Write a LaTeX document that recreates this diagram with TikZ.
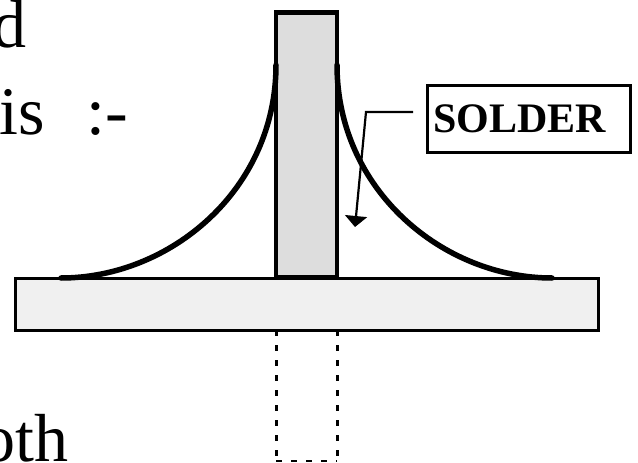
\documentclass[tikz,border=0pt]{standalone}
\usepackage{fontspec}
\setmainfont{Liberation Serif}
\usetikzlibrary{arrows.meta}
\tikzset{
  bigtext/.style={anchor=base west,inner sep=0pt,font=\fontsize{68}{68}\selectfont},
  pinbody/.style={draw=black,line width=4.6pt,fill=pingray,line join=miter},
  plate/.style={draw=black,line width=3pt,fill=plategray},
  solder/.style={draw=black,line width=5.5pt,line cap=round},
  hidden/.style={draw=black,line width=3pt,dash pattern=on 6pt off 9pt},
  hiddenthin/.style={draw=black,line width=2pt,dash pattern=on 6pt off 9pt},
  labelbox/.style={draw=black,line width=2.4pt,fill=white,minimum width=203pt,minimum height=67pt,inner sep=0pt,font=\fontsize{42}{42}\selectfont\bfseries},
  leader/.style={draw=black,line width=2.2pt,-{Triangle[length=11pt,width=22pt]}}
}
\definecolor{pingray}{HTML}{DDDDDD}
\definecolor{plategray}{HTML}{F0F0F0}
\begin{document}
\begin{tikzpicture}[x=1pt,y=-1pt]
\useasboundingbox (0,0) rectangle (638,463);
\node[bigtext] (t1) at (-8,47) {d};
\node[bigtext] (t2) at (-1,134) {is\hspace{42pt}:-};
\node[bigtext] (t3) at (-19,461) {oth};
\coordinate (pa) at (276,330);
\coordinate (pb) at (276,461);
\coordinate (pc) at (337,461);
\coordinate (pd) at (337,330);
\draw[hidden] (pa) -- (pb);
\draw[hidden] (pd) -- (pc);
\draw[hiddenthin] (pb) -- (pc);
\path[plate] (15,278) rectangle (598,330);
\path[pinbody] (276,277) rectangle (337,12.5);
\draw[solder] (61,278) .. controls (170,278) and (276,190) .. (276,65);
\draw[solder] (552,278) .. controls (443,278) and (337,190) .. (337,65);
\node[labelbox] (lab) at (529,119) {\hspace{-19pt}SOLDER};
\coordinate (ls) at (413,112);
\coordinate (lk) at (366,112);
\coordinate (le) at (355,227);
\draw[leader] (ls) -- (lk) -- (le);
\end{tikzpicture}
\end{document}
